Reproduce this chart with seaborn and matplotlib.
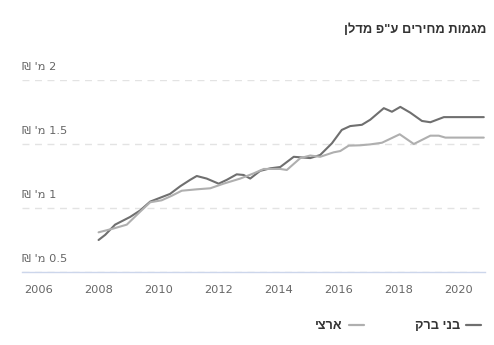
import matplotlib
matplotlib.use("Agg")
import matplotlib.pyplot as plt
from matplotlib.lines import Line2D
import seaborn as sns
import pandas as pd

# Price trend series (million NIS), by decimal year
bnei_brak_years = [2008.0, 2008.22, 2008.55, 2009.05, 2009.38, 2009.72, 2010.05, 2010.38,
                   2010.72, 2011.05, 2011.27, 2011.6, 2012.0, 2012.27, 2012.6, 2012.83,
                   2013.05, 2013.38, 2013.72, 2014.05, 2014.5, 2015.05, 2015.38, 2015.77,
                   2016.1, 2016.38, 2016.77, 2017.05, 2017.5, 2017.77, 2018.05, 2018.38,
                   2018.77, 2019.05, 2019.5, 2020.83]
bnei_brak_values = [0.75, 0.79, 0.87, 0.93, 0.98, 1.05, 1.08, 1.11,
                    1.17, 1.22, 1.25, 1.23, 1.19, 1.22, 1.263, 1.258,
                    1.23, 1.29, 1.31, 1.32, 1.40, 1.39, 1.414, 1.505,
                    1.61, 1.64, 1.65, 1.69, 1.78, 1.752, 1.79, 1.745,
                    1.68, 1.67, 1.71, 1.71]

national_years = [2008.0, 2008.5, 2008.94, 2009.38, 2009.72, 2010.1, 2010.44, 2010.77,
                  2011.27, 2011.72, 2012.16, 2012.72, 2013.16, 2013.5, 2014.05, 2014.27,
                  2014.72, 2015.05, 2015.38, 2015.83, 2016.05, 2016.33, 2016.72, 2017.05,
                  2017.44, 2018.03, 2018.5, 2019.05, 2019.33, 2019.55, 2020.83]
national_values = [0.81, 0.84, 0.87, 0.97, 1.045, 1.06, 1.096, 1.135,
                   1.146, 1.154, 1.19, 1.23, 1.27, 1.305, 1.305, 1.297,
                   1.39, 1.41, 1.40, 1.435, 1.445, 1.487, 1.49, 1.497,
                   1.51, 1.576, 1.50, 1.565, 1.565, 1.55, 1.55]

series_names = ["בני ברק", "ארצי"]
year_ticks = [2006, 2008, 2010, 2012, 2014, 2016, 2018, 2020]
value_ticks = [0.5, 1, 1.5, 2]
value_labels = ["0.5", "1", "1.5", "2"]
title = 'מגמות מחירים ע"פ מדלן'


def visual(s):
    # matplotlib lays glyphs out left-to-right; reverse Hebrew runs for display
    return s[::-1]


df = pd.concat([
    pd.DataFrame({"year": bnei_brak_years, "value": bnei_brak_values, "series": series_names[0]}),
    pd.DataFrame({"year": national_years, "value": national_values, "series": series_names[1]}),
])

colors = {series_names[0]: "#6f6f6f", series_names[1]: "#afafaf"}

sns.set_style("white")
plt.rcParams["font.family"] = ["DejaVu Sans"]

W, H = 494, 345
fig = plt.figure(figsize=(W / 100, H / 100), dpi=100)
ax = fig.add_axes([22 / W, 73 / H, (485 - 22) / W, (272 - 80) / H])

sns.lineplot(data=df, x="year", y="value", hue="series", palette=colors,
             linewidth=1.5, legend=False, ax=ax, sort=True, estimator=None)
for line in ax.get_lines():
    line.set_solid_joinstyle("round")
    line.set_solid_capstyle("round")

ax.set_xlim(2005.45, 2020.87)
ax.set_ylim(0.5, 2.0)
ax.set_xlabel("")
ax.set_ylabel("")

for s in ["top", "right", "left"]:
    ax.spines[s].set_visible(False)
ax.spines["bottom"].set_color("#ccd6eb")
ax.spines["bottom"].set_linewidth(1)

ax.set_xticks(year_ticks)
ax.set_xticklabels([str(y) for y in year_ticks])
ax.tick_params(axis="x", length=7, width=1, color="#ccd6eb", labelsize=8.2,
               labelcolor="#666666", pad=2.5)

ax.set_yticks(value_ticks)
ax.set_yticklabels([])
ax.tick_params(axis="y", length=0)
ax.yaxis.grid(True, color="#e3e3e3", linestyle=(0, (5, 4)), linewidth=1)
ax.set_axisbelow(True)

for v, lab in zip(value_ticks, value_labels):
    ax.annotate(f"₪ 'מ {lab}", xy=(0, v), xycoords=ax.get_yaxis_transform(),
                xytext=(0, 6), textcoords="offset points", ha="left", va="bottom",
                fontsize=8.2, color="#666666", family=["DejaVu Sans"])

fig.text(486 / W, 1 - 30 / H, visual(title), ha="right", va="center",
         fontsize=9.3, fontweight="bold", color="#333333",
         family=["Liberation Sans", "DejaVu Sans"])

handles = [Line2D([], [], color=colors[series_names[1]], linewidth=1.6),
           Line2D([], [], color=colors[series_names[0]], linewidth=1.6)]
labels = [visual(series_names[1]), visual(series_names[0])]
fig.legend(handles, labels, loc="center right", bbox_to_anchor=(481 / W, 1 - 326 / H),
           ncol=2, frameon=False, markerfirst=False, handlelength=1.15,
           handletextpad=0.5, columnspacing=4.0, borderaxespad=0, borderpad=0,
           prop={"family": ["Liberation Sans", "DejaVu Sans"], "weight": "bold", "size": 9.2},
           labelcolor="#333333")

fig.savefig("out.png", dpi=100)
